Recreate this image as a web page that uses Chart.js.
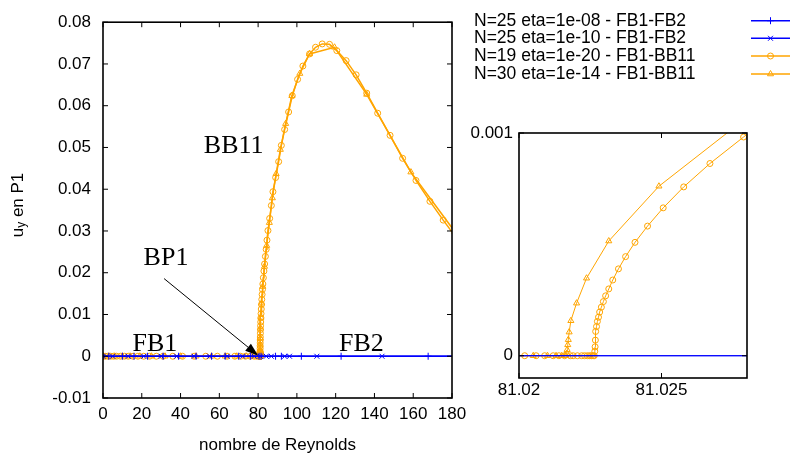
<!DOCTYPE html>
<html>
<head>
<meta charset="utf-8">
<script src="https://cdn.jsdelivr.net/npm/chart.js@4"></script>
<style>
  html, body { margin: 0; padding: 0; background: #fff; }
  #wrap { position: relative; width: 790px; height: 457px; }
  #main { position: absolute; left: 0; top: 0; width: 790px; height: 457px; }
  #inset { position: absolute; left: 460px; top: 110px; width: 330px; height: 300px; }
</style>
</head>
<body>
<div id="wrap">
  <div id="main"><canvas id="cMain"></canvas></div>
  <div id="inset"><canvas id="cInset"></canvas></div>
</div>
<script>
// series labels (legend)
const seriesLabels = [
  'N=25 eta=1e-08 - FB1-FB2',
  'N=25 eta=1e-10 - FB1-FB2',
  'N=19 eta=1e-20 - FB1-BB11',
  'N=30 eta=1e-14 - FB1-BB11'
];

// FB1-FB2, eta=1e-08 (trivial branch, u_y = 0)
const fbAx = [0, 3, 10, 16, 23, 31, 39, 48, 56, 63, 70, 76, 80.5, 81.5, 89, 92, 102.3, 122.8, 167.7, 215];
const fbAy = [0, 0, 0, 0, 0, 0, 0, 0, 0, 0, 0, 0, 0, 0, 0, 0, 0, 0, 0, 0];

// FB1-FB2, eta=1e-10
const fbBx = [0, 5, 13, 21, 30, 38, 47, 55, 64, 72, 78, 81.1, 84.2, 86.8, 93.7, 96.2, 110.3, 143.9, 200];
const fbBy = [0, 0, 0, 0, 0, 0, 0, 0, 0, 0, 0, 0, 0, 0, 0, 0, 0, 0, 0];

// FB1-BB11, N=19 eta=1e-20 (circles)
const bbAx = [
  0, 1.1, 2.5, 4, 5.5, 7, 9, 11, 13, 15.5, 18, 21, 24, 27.5, 31, 36, 41, 47, 53, 59,
  64, 68, 71, 73.5, 76, 78, 79.3, 80.2, 80.7, 81.0,
  81.0202, 81.0206, 81.0209, 81.0212, 81.0214, 81.0216, 81.0218, 81.0219, 81.02205,
  81.0222, 81.0223, 81.0224, 81.02248, 81.02254, 81.0226, 81.02264,
  81.02266, 81.02267, 81.02268, 81.02269, 81.02272, 81.02275, 81.02279, 81.02283,
  81.02289, 81.02296, 81.02304, 81.02315, 81.02329, 81.02349, 81.02374, 81.02407,
  81.02451, 81.02506, 81.02578, 81.0267, 81.02788,
  81.03, 81.04, 81.055, 81.075, 81.1, 81.13, 81.17, 81.22, 81.28, 81.35, 81.43,
  81.52, 81.63, 81.76, 81.9, 82.06, 82.24, 82.45, 82.7, 83.0, 83.35, 83.75, 84.15,
  84.57, 85.08, 85.96, 86.83, 87.65, 89.04, 90.59, 91.98, 93.68, 95.73, 97.63,
  100.36, 103.09, 106.53, 109.62, 113.07, 116.82, 120.58, 125.41, 130.56, 136.01,
  141.67, 148.05, 154.53, 161.42, 168.62, 175.46, 182.5
];
const bbAy = [
  0, 0, 0, 0, 0, 0, 0, 0, 0, 0, 0, 0, 0, 0, 0, 0, 0, 0, 0, 0,
  0, 0, 0, 0, 0, 0, 0, 0, 0, 0,
  0, 0, 0, 0, 0, 0, 0, 0, 0,
  0, 0, 0, 0, 0, 0, 0,
  0.00002, 0.00004, 0.00007, 0.000109, 0.000131, 0.000154, 0.000173, 0.000196,
  0.000218, 0.000243, 0.000269, 0.0003, 0.00034, 0.00039, 0.000445, 0.000509,
  0.000582, 0.000664, 0.000758, 0.000863, 0.000982,
  0.0012, 0.0018, 0.0025, 0.0032, 0.0039, 0.0046, 0.0055, 0.0064, 0.0073, 0.0082, 0.0092,
  0.0102, 0.0113, 0.0124, 0.0136, 0.0148, 0.016, 0.0173, 0.0188, 0.0204, 0.0221, 0.0239, 0.0256,
  0.0278, 0.0301, 0.033, 0.0361, 0.0394, 0.0428, 0.0466, 0.0505, 0.0543, 0.0585, 0.0624,
  0.0663, 0.0695, 0.0724, 0.074, 0.0748, 0.0747, 0.0732, 0.0708, 0.0674, 0.063,
  0.0582, 0.0529, 0.0474, 0.0421, 0.0371, 0.0326, 0.0282
];

// FB1-BB11, N=30 eta=1e-14 (triangles)
const bbBx = [
  0, 3, 6, 10, 14, 19, 25, 32, 40, 48, 56, 63, 69, 74, 78, 80.3, 81.0,
  81.0205, 81.021, 81.0213, 81.0215, 81.0216, 81.02165,
  81.02168, 81.02169, 81.02171, 81.02173, 81.02176, 81.02182, 81.02202, 81.02237,
  81.02315, 81.02491, 81.03, 81.06, 81.12, 81.25, 81.45, 81.8, 82.4, 83.3, 84.4,
  85.8, 87.35, 89.3, 91.46, 94.2, 97.4, 101.5, 106.5, 119.4, 136, 158.8, 181.5
];
const bbBy = [
  0, 0, 0, 0, 0, 0, 0, 0, 0, 0, 0, 0, 0, 0, 0, 0, 0,
  0, 0, 0, 0, 0, 0,
  0.00001, 0.000027, 0.000049, 0.000072, 0.000106, 0.000157, 0.000236, 0.000348,
  0.000515, 0.000761, 0.00127, 0.0026, 0.0043, 0.0067, 0.0093, 0.0127, 0.0167, 0.0215, 0.0265,
  0.032, 0.0379, 0.0437, 0.0495, 0.0557, 0.0624, 0.0677, 0.0724, 0.074, 0.0627, 0.0441, 0.0298
];

// ticks
const mainXTicks = [0, 20, 40, 60, 80, 100, 120, 140, 160, 180];
const mainYTicks = [-0.01, 0, 0.01, 0.02, 0.03, 0.04, 0.05, 0.06, 0.07, 0.08];
const insetXTicks = [81.02, 81.025];
const insetYTicks = [0, 0.001];

// text labels on the main plot, in data coordinates
const noteLabels = [
  { text: 'BB11', x: 67.4, y: 0.0503 },
  { text: 'BP1', x: 32.5, y: 0.0235 },
  { text: 'FB1', x: 26.8, y: 0.003 },
  { text: 'FB2', x: 133.3, y: 0.003 }
];
const arrowFrom = { x: 31.5, y: 0.0186 };
const arrowTo = { x: 80.0, y: 0.0002 };

const BLUE = '#0000ff';
const ORANGE = '#ffa500';
const SANS = '"Liberation Sans", Arial, sans-serif';

const pts = (xs, ys) => xs.map((x, i) => ({ x: x, y: ys[i] }));

const styles = [
  { color: BLUE, pointStyle: 'cross', radius: 3.5 },
  { color: BLUE, pointStyle: 'crossRot', radius: 3.5 },
  { color: ORANGE, pointStyle: 'circle', radius: 3 },
  { color: ORANGE, pointStyle: 'triangle', radius: 3.5 }
];
const series = [pts(fbAx, fbAy), pts(fbBx, fbBy), pts(bbAx, bbAy), pts(bbBx, bbBy)];

function makeDatasets(lw) {
  return series.map((d, i) => ({
    label: seriesLabels[i],
    data: d,
    borderColor: styles[i].color,
    backgroundColor: 'rgba(0,0,0,0)',
    borderWidth: lw,
    pointStyle: styles[i].pointStyle,
    pointRadius: styles[i].radius,
    pointBorderColor: styles[i].color,
    pointBackgroundColor: 'rgba(0,0,0,0)',
    pointBorderWidth: 1,
    tension: 0
  }));
}

// frame with inward ticks on all four sides, gnuplot style
const frameTicks = {
  id: 'frameTicks',
  afterDatasetsDraw(chart, args, opts) {
    const { ctx, chartArea: a, scales } = chart;
    const len = opts.len || 5;
    ctx.save();
    ctx.strokeStyle = '#000';
    ctx.lineWidth = 1;
    ctx.beginPath();
    scales.x.ticks.forEach(t => {
      const px = scales.x.getPixelForValue(t.value);
      ctx.moveTo(px, a.bottom); ctx.lineTo(px, a.bottom - len);
      ctx.moveTo(px, a.top); ctx.lineTo(px, a.top + len);
    });
    scales.y.ticks.forEach(t => {
      const py = scales.y.getPixelForValue(t.value);
      ctx.moveTo(a.left, py); ctx.lineTo(a.left + len, py);
      ctx.moveTo(a.right, py); ctx.lineTo(a.right - len, py);
    });
    ctx.stroke();
    ctx.lineWidth = 1.6;
    ctx.strokeRect(a.left, a.top, a.right - a.left, a.bottom - a.top);
    ctx.restore();
  }
};

// annotations, axis titles and legend of the main plot
const mainDecor = {
  id: 'mainDecor',
  afterDraw(chart) {
    const { ctx, scales } = chart;
    const sx = v => scales.x.getPixelForValue(v);
    const sy = v => scales.y.getPixelForValue(v);
    ctx.save();
    ctx.fillStyle = '#000';
    ctx.font = '26px "Liberation Serif", "Times New Roman", serif';
    ctx.textAlign = 'center';
    ctx.textBaseline = 'middle';
    noteLabels.forEach(l => ctx.fillText(l.text, sx(l.x), sy(l.y)));

    // arrow BP1
    const x0 = sx(arrowFrom.x), y0 = sy(arrowFrom.y);
    const x1 = sx(arrowTo.x), y1 = sy(arrowTo.y);
    const ang = Math.atan2(y1 - y0, x1 - x0);
    const hl = 13, hw = 4.5;
    ctx.strokeStyle = '#000';
    ctx.lineWidth = 1;
    ctx.beginPath();
    ctx.moveTo(x0, y0);
    ctx.lineTo(x1 - hl * Math.cos(ang), y1 - hl * Math.sin(ang));
    ctx.stroke();
    ctx.beginPath();
    ctx.moveTo(x1, y1);
    ctx.lineTo(x1 - hl * Math.cos(ang) + hw * Math.sin(ang), y1 - hl * Math.sin(ang) - hw * Math.cos(ang));
    ctx.lineTo(x1 - hl * Math.cos(ang) - hw * Math.sin(ang), y1 - hl * Math.sin(ang) + hw * Math.cos(ang));
    ctx.closePath();
    ctx.fill();

    // x title
    ctx.font = '17px ' + SANS;
    ctx.fillText('nombre de Reynolds', (chart.chartArea.left + chart.chartArea.right) / 2, 445);

    // y title u_y en P1
    ctx.save();
    ctx.translate(18, 205);
    ctx.rotate(-Math.PI / 2);
    ctx.textAlign = 'left';
    const fMain = '17px ' + SANS, fSub = '12px ' + SANS;
    ctx.font = fMain;
    const wU = ctx.measureText('u').width;
    const wRest = ctx.measureText(' en P1').width;
    ctx.font = fSub;
    const wY = ctx.measureText('y').width;
    let x = -(wU + wY + wRest) / 2;
    ctx.font = fMain;
    ctx.fillText('u', x, 0); x += wU;
    ctx.font = fSub;
    ctx.fillText('y', x, 4); x += wY;
    ctx.font = fMain;
    ctx.fillText(' en P1', x, 0);
    ctx.restore();

    // legend
    ctx.font = '17.5px ' + SANS;
    ctx.textAlign = 'left';
    const rowY = [20.7, 38.3, 56, 74];
    chart.data.datasets.forEach((ds, i) => {
      ctx.fillStyle = '#000';
      ctx.fillText(ds.label, 474, rowY[i]);
      ctx.strokeStyle = ds.borderColor;
      ctx.lineWidth = 1.5;
      ctx.beginPath();
      ctx.moveTo(751, rowY[i]); ctx.lineTo(790, rowY[i]);
      ctx.stroke();
      ctx.lineWidth = 1;
      ctx.fillStyle = 'rgba(0,0,0,0)';
      Chart.helpers.drawPoint(ctx, {
        pointStyle: ds.pointStyle, radius: ds.pointRadius, borderWidth: 1, rotation: 0
      }, 770.5, rowY[i]);
    });
    ctx.restore();
  }
};

function axis(min, max, tickVals, size, pad, isY) {
  return {
    type: 'linear',
    min: min,
    max: max,
    grid: { display: false, drawTicks: false },
    border: { display: false },
    afterBuildTicks: s => { s.ticks = tickVals.map(v => ({ value: v })); },
    afterFit: s => { if (isY) s.width = size; else s.height = size; },
    ticks: {
      padding: pad,
      color: '#000',
      font: { family: SANS, size: 17 },
      maxRotation: 0,
      autoSkip: false,
      callback: v => String(v)
    }
  };
}

Chart.defaults.animation = false;

new Chart(document.getElementById('cMain'), {
  type: 'line',
  data: { datasets: makeDatasets(1.5) },
  options: {
    responsive: true,
    maintainAspectRatio: false,
    animation: false,
    layout: { padding: { left: 0, top: 12, right: 338, bottom: 0 } },
    plugins: { legend: { display: false }, tooltip: { enabled: false }, frameTicks: { len: 5 } },
    scales: {
      x: axis(0, 180, mainXTicks, 59, 6, false),
      y: axis(-0.01, 0.08, mainYTicks, 103, 12, true)
    }
  },
  plugins: [frameTicks, mainDecor]
});

new Chart(document.getElementById('cInset'), {
  type: 'line',
  data: { datasets: makeDatasets(1) },
  options: {
    responsive: true,
    maintainAspectRatio: false,
    animation: false,
    layout: { padding: { left: 0, top: 23, right: 43, bottom: 0 } },
    plugins: { legend: { display: false }, tooltip: { enabled: false }, frameTicks: { len: 5 } },
    scales: {
      x: axis(81.02, 81.028, insetXTicks, 32, 2, false),
      y: axis(-0.0001, 0.001, insetYTicks, 59, 6, true)
    }
  },
  plugins: [frameTicks]
});
</script>
</body>
</html>
